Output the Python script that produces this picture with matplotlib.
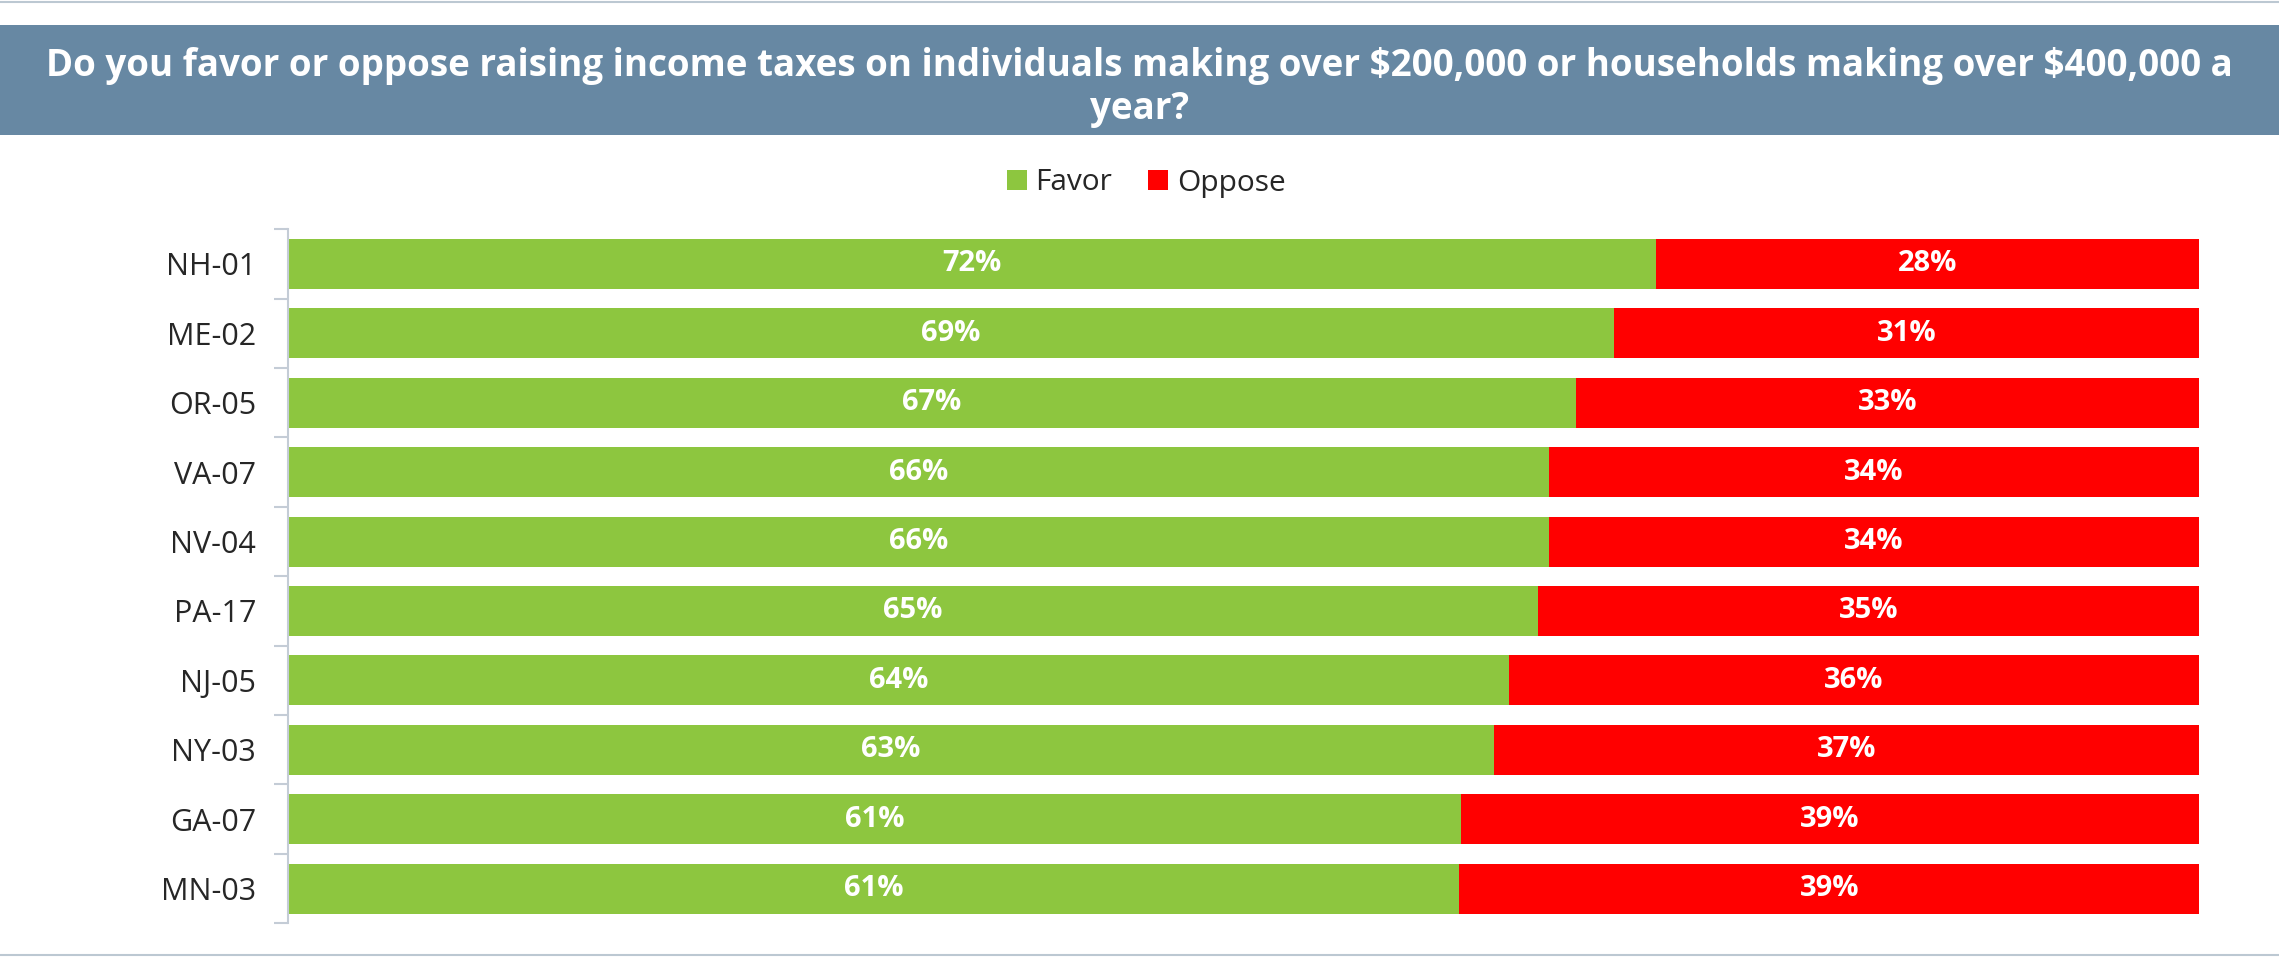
import matplotlib
matplotlib.use("Agg")
import matplotlib.pyplot as plt
from matplotlib.patches import Rectangle
from matplotlib.lines import Line2D
import numpy as np

plt.rcParams['font.family'] = ['Open Sans', 'DejaVu Sans']
plt.rcParams['text.parse_math'] = False

districts = ["NH-01", "ME-02", "OR-05", "VA-07", "NV-04", "PA-17", "NJ-05", "NY-03", "GA-07", "MN-03"]
favor = [71.6, 69.4, 67.4, 66.0, 66.0, 65.4, 63.9, 63.1, 61.4, 61.3]
oppose = [28.4, 30.6, 32.6, 34.0, 34.0, 34.6, 36.1, 36.9, 38.6, 38.7]
series_names = ["Favor", "Oppose"]
title_line1 = "Do you favor or oppose raising income taxes on individuals making over $200,000 or households making over $400,000 a"
title_line2 = "year?"

GREEN = "#8DC63F"
RED = "#FF0000"
BAND = "#6788A3"

W, H = 2279, 958
fig = plt.figure(figsize=(W / 100, H / 100), dpi=100)

def fy(py):
    return 1 - py / H

# top and bottom separator lines
fig.add_artist(Line2D([0, 1], [fy(2), fy(2)], color="#BCC8D2", lw=1.5, transform=fig.transFigure))
fig.add_artist(Line2D([0, 1], [fy(955), fy(955)], color="#BCC8D2", lw=1.5, transform=fig.transFigure))

# title band
fig.add_artist(Rectangle((0, fy(135)), 1, (135 - 25) / H, transform=fig.transFigure,
                         facecolor=BAND, edgecolor="none"))
t1 = fig.text(0.5, fy(66), title_line1, ha="center", va="center", color="white",
              fontsize=24, fontweight="bold")
# fit the first title line to the reference's text width
renderer = fig.canvas.get_renderer()
w = t1.get_window_extent(renderer=renderer).width
fs = 24 * 2188 / w
t1.set_fontsize(fs)
fig.text(0.5, fy(109), title_line2, ha="center", va="center", color="white",
         fontsize=fs, fontweight="bold")

ax = fig.add_axes([288 / W, fy(923.3), (2199 - 288) / W, (923.3 - 229.3) / H])
y = np.arange(len(districts))
b1 = ax.barh(y, favor, height=0.72, color=GREEN, label=series_names[0])
b2 = ax.barh(y, oppose, left=favor, height=0.72, color=RED, label=series_names[1])

for i in range(len(districts)):
    ax.text(favor[i] / 2, y[i], f"{round(favor[i])}%", ha="center", va="center",
            color="white", fontsize=21, fontweight="bold")
    ax.text(favor[i] + oppose[i] / 2, y[i], f"{round(oppose[i])}%", ha="center", va="center",
            color="white", fontsize=21, fontweight="bold")

ax.set_xlim(0, 100)
ax.set_ylim(len(districts) - 0.5, -0.5)
ax.set_yticks(y)
ax.set_yticklabels(districts, fontsize=22, color="#262626")
ax.set_yticks(np.arange(len(districts) + 1) - 0.5, minor=True)
ax.tick_params(axis="y", which="major", length=0, pad=23)
ax.tick_params(axis="y", which="minor", length=10, width=1.5, color="#C4CCD6")
ax.set_xticks([])
for s in ["top", "right", "bottom"]:
    ax.spines[s].set_visible(False)
ax.spines["left"].set_color("#C4CCD6")
ax.spines["left"].set_linewidth(1.5)

leg = fig.legend(handles=[b1, b2], loc="center", bbox_to_anchor=(0.503, fy(183)), ncol=2,
                 frameon=False, fontsize=21.5, handlelength=0.65, handleheight=0.65,
                 handletextpad=0.3, columnspacing=1.2)
for t in leg.get_texts():
    t.set_color("#262626")

fig.savefig("out.png", dpi=100, facecolor="white")
